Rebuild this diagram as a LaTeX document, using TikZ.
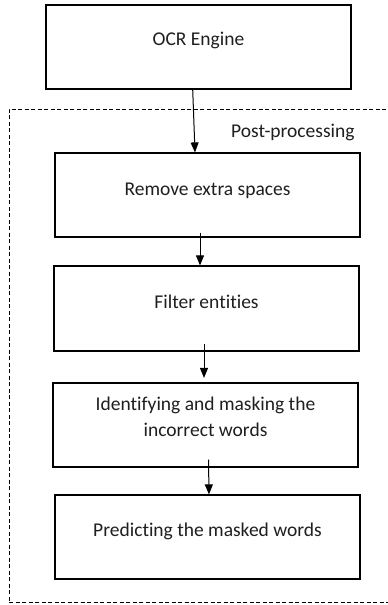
\documentclass[tikz,border=0pt]{standalone}
\usepackage{fontspec}
\setmainfont[Ligatures=NoCommon]{Carlito}
\usetikzlibrary{arrows.meta}

\tikzset{
  stagebox/.style={draw=black, line width=1.2pt, rectangle, minimum width=305pt,
                   minimum height=84pt, inner sep=0pt},
  stagetext/.style={text=black!88, font=\fontsize{19.5}{26}\selectfont,
                    inner sep=0pt, align=center, anchor=base},
  flow/.style={draw=black, line width=1pt,
               -{Triangle[width=8pt,length=10pt]}},
  groupframe/.style={draw=black, line width=1pt, dash pattern=on 4pt off 2.5pt,
                     rectangle, inner sep=0pt},
}

\begin{document}
\begin{tikzpicture}[x=1pt, y=-1pt]
  \clip (0,0) rectangle (388,605);
  \fill[white] (0,0) rectangle (388,605);

  % post-processing group frame (runs off the right edge)
  \node[groupframe, minimum width=400pt, minimum height=493.5pt] (post) at (209,355.75) {};
  \node[stagetext, anchor=base west] (posttitle) at (231,137) {Post-processing};

  % stages
  \node[stagebox] (ocr)   at (198.5,47)  {};
  \node[stagebox] (rm)    at (207.5,195) {};
  \node[stagebox, minimum height=85pt] (filt) at (206.5,308.5) {};
  \node[stagebox] (ident) at (205.5,425) {};
  \node[stagebox] (pred)  at (207.5,537) {};

  \node[stagetext] (ocrt)   at (198.5,45.7) {OCR Engine};
  \node[stagetext] (rmt)    at (207.5,195)  {Remove extra spaces};
  \node[stagetext] (filtt)  at (206.5,308.3) {Filter entities};
  % base anchor of a two-line node sits on its last line
  \node[stagetext] (identt) at (205.5,436)  {Identifying and masking the\\incorrect words};
  \node[stagetext] (predt)  at (207.5,536)  {Predicting the masked words};

  % connectors
  \draw[flow] ([xshift=-5.8pt]ocr.south) -- ([xshift=-12.5pt]rm.north);
  \draw[flow] ([xshift=-7.5pt,yshift=5pt]rm.south) -- ([xshift=-6.5pt]filt.north);
  \draw[flow] ([xshift=-2.5pt,yshift=8pt]filt.south) -- ([xshift=-1.5pt,yshift=4.5pt]ident.north);
  \draw[flow] ([xshift=3pt,yshift=8pt]ident.south) -- ([xshift=1.5pt]pred.north);
\end{tikzpicture}
\end{document}
